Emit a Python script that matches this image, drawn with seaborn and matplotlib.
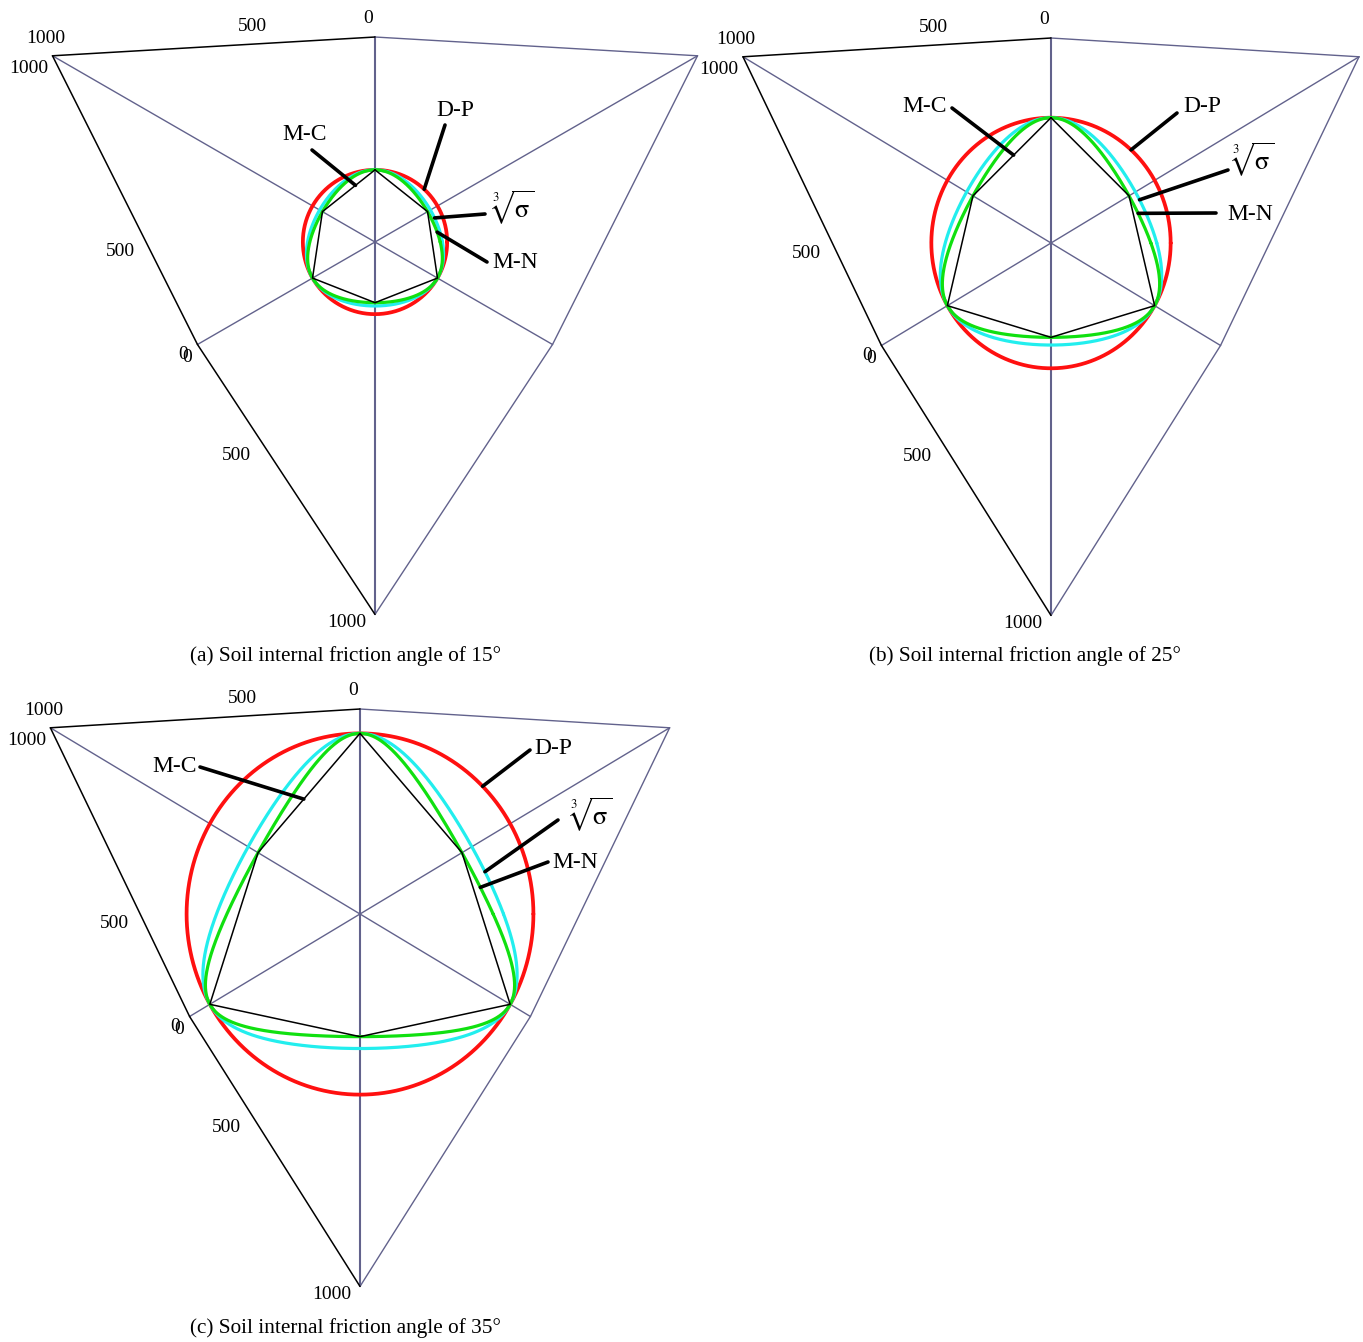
import itertools
import numpy as np
import pandas as pd
import matplotlib
matplotlib.use("Agg")
import matplotlib.pyplot as plt
import seaborn as sns

# ---------------------------------------------------------------- data
friction_angles = [15, 25, 35]            # soil internal friction angle, degrees
panel_tags = ["(a)", "(b)", "(c)"]
mean_stress = 490.0                       # hydrostatic stress of the deviatoric section
axis_range = [0.0, 1000.0]                # principal stress range on each axis
axis_tick_values = [0, 500, 1000]
criteria = ["D-P", "cube", "M-N", "M-C"]
criteria_labels = {"D-P": "D-P", "cube": r"$\sqrt[3]{\mathrm{σ}}$", "M-N": "M-N", "M-C": "M-C"}
criteria_fonts = {"D-P": 17, "cube": 19, "M-N": 17, "M-C": 17}
criteria_colors = {"D-P": "#ff1010", "cube": "#22eeee", "M-N": "#10e010", "M-C": "black"}
criteria_widths = {"D-P": 2.7, "cube": 2.3, "M-N": 2.3, "M-C": 1.1}

# ---------------------------------------------------------------- view
VIEW_DISTANCE = 995.5
FOCAL = 322.4
CUBE_CENTER = np.array([500.0, 500.0, 500.0])
N_HAT = np.ones(3) / np.sqrt(3)
U_HAT = np.array([-1.0, 1.0, 0.0]) / np.sqrt(2)
V_HAT = np.array([-1.0, -1.0, 2.0]) / np.sqrt(6)
FRAME_COLOR = "#62628c"

W, H = 1363, 1342
panels = [
    dict(center=(375, 242), kx=1.0, box=(0, 0, 705, 645), caption=(345, 656)),
    dict(center=(1051, 243), kx=0.955, box=(700, 0, 1363, 645), caption=(1025, 656)),
    dict(center=(360, 914), kx=0.96, box=(0, 668, 705, 1320), caption=(345, 1328)),
]
# leader lines: (criterion, direction on section in deg, line start px, text px)
leaders = [
    [("M-C", 109, (-63, 92), (-70, 107)), ("D-P", 47, (70, 117), (80, 131)),
     ("cube", 22, (110, 28), (137, 34)), ("M-N", 9, (112, -20), (140, -21))],
    [("M-C", 114, (-99, 135), (-126, 136)), ("D-P", 48, (126, 130), (151, 136)),
     ("cube", 25, (177, 73), (201, 83)), ("M-N", 18, (165, 30), (199, 29))],
    [("M-C", 117, (-160, 147), (-185, 147)), ("D-P", 45, (170, 164), (193, 166)),
     ("cube", 18, (198, 94), (230, 99)), ("M-N", 12, (188, 52), (215, 52))],
]


def project(points, kx):
    rel = np.atleast_2d(points) - CUBE_CENTER
    depth = VIEW_DISTANCE - rel @ N_HAT
    x = FOCAL * (rel @ U_HAT) / depth * kx
    y = FOCAL * (rel @ V_HAT) / depth
    return x, y


def directions(alpha):
    return np.cos(alpha)[:, None] * U_HAT + np.sin(alpha)[:, None] * V_HAT


def invariants(s):
    i1 = s.sum(axis=1)
    i2 = s[:, 0] * s[:, 1] + s[:, 1] * s[:, 2] + s[:, 2] * s[:, 0]
    i3 = s.prod(axis=1)
    return i1, i2, i3


def make_excess(name, phi):
    sp = np.sin(np.radians(phi))
    n = (1 + sp) / (1 - sp)
    if name == "M-C":
        return lambda s: s.max(1) - s.min(1) - (s.max(1) + s.min(1)) * sp
    if name == "M-N":
        k = (9 - sp ** 2) / (1 - sp ** 2)
        return lambda s: (lambda a, b, c: a * b / c - k)(*invariants(s))
    if name == "cube":
        k = (n + 2) ** 3 / n
        return lambda s: (lambda a, b, c: a ** 3 / c - k)(*invariants(s))
    raise ValueError(name)


def section_radius(alpha, excess):
    d = directions(alpha)
    lo = np.zeros_like(alpha)
    hi = -mean_stress / d.min(axis=1) * (1 - 1e-9)
    for _ in range(70):
        mid = 0.5 * (lo + hi)
        over = excess(mean_stress + mid[:, None] * d) > 0
        hi = np.where(over, mid, hi)
        lo = np.where(over, lo, mid)
    return 0.5 * (lo + hi)


def section_points(name, phi, alpha):
    if name == "D-P":
        rho_c = section_radius(np.array([np.pi / 2]), make_excess("M-C", phi))[0]
        rho = np.full_like(alpha, rho_c)
    else:
        rho = section_radius(alpha, make_excess(name, phi))
    return mean_stress + rho[:, None] * directions(alpha)


def curve_frame(name, phi, kx):
    if name == "M-C":
        # straight sides between the six corners of the hexagon
        alpha = np.radians(np.arange(90, 91 + 360, 60, dtype=float))
    else:
        alpha = np.linspace(0, 2 * np.pi, 1081)
    x, y = project(section_points(name, phi, alpha), kx)
    return pd.DataFrame({"x": x, "y": y})


sns.set_theme(style="white")
plt.rcParams["font.family"] = ["Liberation Serif", "DejaVu Serif"]
plt.rcParams["mathtext.fontset"] = "stix"
plt.rcParams["text.color"] = "black"

fig = plt.figure(figsize=(W / 100, H / 100), dpi=100)

corners = np.array(list(itertools.product(axis_range, repeat=3)))
edges = [(i, j) for i, j in itertools.combinations(range(8), 2)
         if np.sum(corners[i] != corners[j]) == 1]
lo_v, hi_v = axis_range
labelled_axes = {
    "x": (lambda v: np.array([v, lo_v, hi_v]), [(-7, -19), (-8, -17), (-7, -17)]),
    "z": (lambda v: np.array([hi_v, lo_v, v]), [(-14, 10), (-26, 10), (-24, 13)]),
    "y": (lambda v: np.array([hi_v, v, lo_v]), [(-10, 13), (-24, 15), (-28, 8)]),
}
black_edges = [
    (np.array([lo_v, lo_v, hi_v]), np.array([hi_v, lo_v, hi_v])),
    (np.array([hi_v, lo_v, hi_v]), np.array([hi_v, lo_v, lo_v])),
    (np.array([hi_v, lo_v, lo_v]), np.array([hi_v, hi_v, lo_v])),
]

for phi, tag, pan, lead in zip(friction_angles, panel_tags, panels, leaders):
    cx, cy = pan["center"]
    x0, y0, x1, y1 = pan["box"]
    kx = pan["kx"]
    ax = fig.add_axes([x0 / W, 1 - y1 / H, (x1 - x0) / W, (y1 - y0) / H])
    ax.set_xlim(x0 - cx, x1 - cx)
    ax.set_ylim(cy - y1, cy - y0)
    ax.set_axis_off()
    ax.patch.set_alpha(0)

    # cube frame of the principal stress space
    for i, j in edges:
        a, b = corners[i], corners[j]
        is_black = any((np.allclose(a, p) and np.allclose(b, q)) or
                       (np.allclose(a, q) and np.allclose(b, p)) for p, q in black_edges)
        if is_black:
            continue
        xs, ys = project(np.vstack([a, b]), kx)
        vertical = abs(xs[0] - xs[1]) < 1e-6
        ax.plot(xs, ys, color=FRAME_COLOR, lw=1.5 if vertical else 1.0,
                zorder=1, clip_on=False)
    for p, q in black_edges:
        xs, ys = project(np.vstack([p, q]), kx)
        ax.plot(xs, ys, color="black", lw=1.1, zorder=2, clip_on=False)

    # axis tick labels
    for name, (pt_fn, offsets) in labelled_axes.items():
        for val, off in zip(axis_tick_values, offsets):
            tx, ty = project(pt_fn(float(val)), kx)
            ax.annotate(str(val), xy=(tx[0], ty[0]), xytext=(off[0], -off[1]),
                        textcoords="offset pixels", ha="center", va="center",
                        fontsize=14, color="black", annotation_clip=False)

    # yield surface sections
    for zo, name in enumerate(criteria):
        df = curve_frame(name, phi, kx)
        sns.lineplot(data=df, x="x", y="y", sort=False, estimator=None,
                     color=criteria_colors[name], lw=criteria_widths[name],
                     ax=ax, zorder=3 + zo, legend=False)
    ax.set_xlabel("")
    ax.set_ylabel("")

    # leader lines and criterion labels
    for name, ang, start, tpos in lead:
        pt = section_points(name, phi, np.radians([float(ang)]))
        ex, ey = project(pt, kx)
        ax.annotate("", xy=(ex[0], ey[0]), xytext=(start[0], start[1]),
                    arrowprops=dict(arrowstyle="-", lw=2.6, color="black",
                                    shrinkA=0, shrinkB=0),
                    zorder=10, annotation_clip=False)
        ax.text(tpos[0], tpos[1], criteria_labels[name], fontsize=criteria_fonts[name],
                ha="center", va="center", color="black", zorder=11)

    fig.text(pan["caption"][0] / W, 1 - pan["caption"][1] / H,
             f"{tag} Soil internal friction angle of {phi}°",
             ha="center", va="center", fontsize=15.3, color="black")

fig.savefig("out.png", dpi=100)
